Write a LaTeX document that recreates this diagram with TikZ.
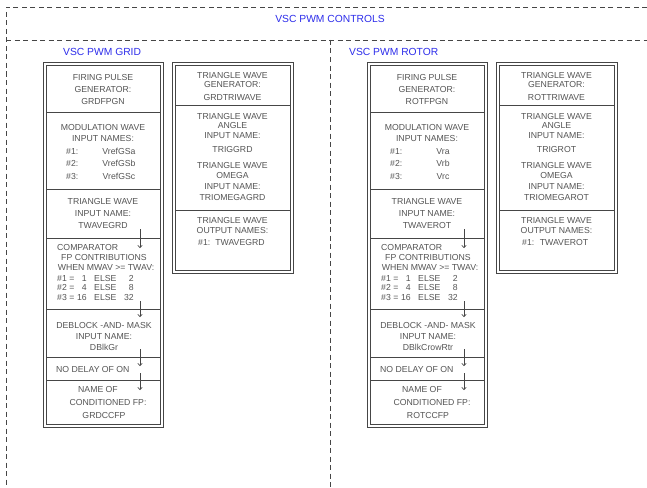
\documentclass[tikz,border=0pt]{standalone}
\usepackage{fontspec}
\setmainfont{Liberation Sans}
\usetikzlibrary{arrows.meta}

\definecolor{labelblue}{RGB}{45,45,235}
\definecolor{ink}{RGB}{85,85,85}
\definecolor{rule}{RGB}{70,70,70}

\tikzset{
  frame/.style={draw=rule, line width=0.7pt, dash pattern=on 5pt off 3.5pt},
  boxline/.style={draw=rule, line width=0.8pt},
  lbl/.style={inner sep=0pt, anchor=base, yshift=-3.1pt, text=ink,
    font=\fontsize{8.7}{10}\selectfont},
  lbll/.style={lbl, anchor=base west},
  lblr/.style={lbl, anchor=base east},
  head/.style={inner sep=0pt, anchor=base, yshift=-3.7pt, text=labelblue,
    font=\fontsize{10.3}{12}\selectfont},
  headl/.style={head, anchor=base west},
  flow/.style={draw=rule, line width=0.6pt, -{To[length=3pt,width=5pt]}},
}

% Firing pulse generator column:
% #1 prefix, #2 x offset, #3 generator, #4-#6 modulation inputs,
% #7 triangle input, #8 deblock input, #9 conditioned output
\newcommand\fpgcolumn[9]{%
  \begin{scope}[xshift=#2]
    \draw[boxline] (43,62) rectangle (163,427);
    \draw[boxline] (46,65) rectangle (160,424);
    \foreach \yy in {112.7,189.3,238.3,309.3,357.3,380.7}
      \draw[boxline] (46,\yy) -- (160,\yy);
    % generator name
    \node[lbl] (#1-fp1) at (103,77.7) {FIRING PULSE};
    \node[lbl] (#1-fp2) at (103,89.3) {GENERATOR:};
    \node[lbl] (#1-fp3) at (103,101.7) {#3};
    % modulation inputs
    \node[lbl] (#1-mw1) at (103,127.3) {MODULATION WAVE};
    \node[lbl] (#1-mw2) at (103,138.7) {INPUT NAMES:};
    \node[lbll] (#1-mk1) at (66,151) {\#1:};
    \node[lbll] (#1-mk2) at (66,163.3) {\#2:};
    \node[lbll] (#1-mk3) at (66,176) {\#3:};
    \node[lbl] (#1-mn1) at (119,151) {#4};
    \node[lbl] (#1-mn2) at (119,163.3) {#5};
    \node[lbl] (#1-mn3) at (119,176) {#6};
    % triangle input
    \node[lbl] (#1-tw1) at (103,201.7) {TRIANGLE WAVE};
    \node[lbl] (#1-tw2) at (103,213.3) {INPUT NAME:};
    \node[lbl] (#1-tw3) at (103,225) {#7};
    % comparator
    \node[lbll] (#1-cp1) at (57,247.3) {COMPARATOR};
    \node[lbl] (#1-cp2) at (104,257.7) {FP CONTRIBUTIONS};
    \node[lbl] (#1-cp3) at (106,267.3) {WHEN MWAV >= TWAV:};
    \node[lbll] (#1-ck1) at (57,278.3) {\#1 =};
    \node[lbll] (#1-ck2) at (57,287.7) {\#2 =};
    \node[lbll] (#1-ck3) at (57,297.3) {\#3 =};
    \node[lblr] (#1-cv1) at (87,278.3) {1};
    \node[lblr] (#1-cv2) at (87,287.7) {4};
    \node[lblr] (#1-cv3) at (87,297.3) {16};
    \node[lbll] (#1-ce1) at (94,278.3) {ELSE};
    \node[lbll] (#1-ce2) at (94,287.7) {ELSE};
    \node[lbll] (#1-ce3) at (94,297.3) {ELSE};
    \node[lblr] (#1-cw1) at (134,278.3) {2};
    \node[lblr] (#1-cw2) at (134,287.7) {8};
    \node[lblr] (#1-cw3) at (134,297.3) {32};
    % deblock and mask
    \node[lbl] (#1-db1) at (104,325) {DEBLOCK -AND- MASK};
    \node[lbl] (#1-db2) at (104,336.7) {INPUT NAME:};
    \node[lbl] (#1-db3) at (104,347.7) {#8};
    % on delay
    \node[lbll] (#1-nd) at (56,369) {NO DELAY OF ON};
    % conditioned output
    \node[lbl] (#1-cc1) at (98,389.3) {NAME OF};
    \node[lbl] (#1-cc2) at (108,402.3) {CONDITIONED FP:};
    \node[lbl] (#1-cc3) at (104,415) {#9};
    % signal flow between stages
    \coordinate (#1-a1s) at (140,229);
    \coordinate (#1-a1e) at (140,248);
    \coordinate (#1-a2s) at (140,301);
    \coordinate (#1-a2e) at (140,317);
    \coordinate (#1-a3s) at (140,349);
    \coordinate (#1-a3e) at (140,366);
    \coordinate (#1-a4s) at (140,373);
    \coordinate (#1-a4e) at (140,390);
    \draw[flow] (#1-a1s) -- (#1-a1e);
    \draw[flow] (#1-a2s) -- (#1-a2e);
    \draw[flow] (#1-a3s) -- (#1-a3e);
    \draw[flow] (#1-a4s) -- (#1-a4e);
  \end{scope}}

% Triangle wave generator column:
% #1 prefix, #2 x offset, #3 generator, #4 angle input, #5 omega input, #6 output
\newcommand\twgcolumn[6]{%
  \begin{scope}[xshift=#2]
    \draw[boxline] (172,62) rectangle (293,273);
    \draw[boxline] (175,65) rectangle (290,270);
    \draw[boxline] (175,105) -- (290,105);
    \draw[boxline] (175,210) -- (290,210);
    \node[lbl] (#1-g1) at (232.5,75) {TRIANGLE WAVE};
    \node[lbl] (#1-g2) at (232.5,84.3) {GENERATOR:};
    \node[lbl] (#1-g3) at (232.5,97.3) {#3};
    \node[lbl] (#1-a1) at (232.5,116) {TRIANGLE WAVE};
    \node[lbl] (#1-a2) at (232.5,125.3) {ANGLE};
    \node[lbl] (#1-a3) at (232.5,135.7) {INPUT NAME:};
    \node[lbl] (#1-a4) at (232.5,149) {#4};
    \node[lbl] (#1-o1) at (232.5,165) {TRIANGLE WAVE};
    \node[lbl] (#1-o2) at (232.5,175.7) {OMEGA};
    \node[lbl] (#1-o3) at (232.5,186) {INPUT NAME:};
    \node[lbl] (#1-o4) at (232.5,197.7) {#5};
    \node[lbl] (#1-u1) at (232.5,220) {TRIANGLE WAVE};
    \node[lbl] (#1-u2) at (232.5,230) {OUTPUT NAMES:};
    \node[lbll] (#1-uk) at (198,242.7) {\#1:};
    \node[lbl] (#1-un) at (240,242.7) {#6};
  \end{scope}}

\begin{document}
\begin{tikzpicture}[x=1pt, y=-1pt]
  \useasboundingbox (0,0) rectangle (647,487);
  \fill[white] (0,0) rectangle (647,487);

  % dashed grouping frames
  \coordinate (fTL) at (6,7);
  \coordinate (fTR) at (647,7);
  \coordinate (fBL) at (6,487);
  \coordinate (mL) at (6,40);
  \coordinate (mR) at (647,40);
  \coordinate (dT) at (330,40);
  \coordinate (dB) at (330,487);
  \draw[frame] (fTR) -- (fTL) -- (fBL);
  \draw[frame] (mL) -- (mR);
  \draw[frame] (dT) -- (dB);

  % group titles
  \node[head] (tControls) at (330,19.3) {VSC PWM CONTROLS};
  \node[headl] (tGrid) at (63,52) {VSC PWM GRID};
  \node[headl] (tRotor) at (349,52) {VSC PWM ROTOR};

  % grid side
  \fpgcolumn{grd}{0pt}{GRDFPGN}{VrefGSa}{VrefGSb}{VrefGSc}{TWAVEGRD}{DBlkGr}{GRDCCFP}
  \twgcolumn{grdtri}{0pt}{GRDTRIWAVE}{TRIGGRD}{TRIOMEGAGRD}{TWAVEGRD}

  % rotor side
  \fpgcolumn{rot}{324pt}{ROTFPGN}{Vra}{Vrb}{Vrc}{TWAVEROT}{DBlkCrowRtr}{ROTCCFP}
  \twgcolumn{rottri}{324pt}{ROTTRIWAVE}{TRIGROT}{TRIOMEGAROT}{TWAVEROT}
\end{tikzpicture}
\end{document}
